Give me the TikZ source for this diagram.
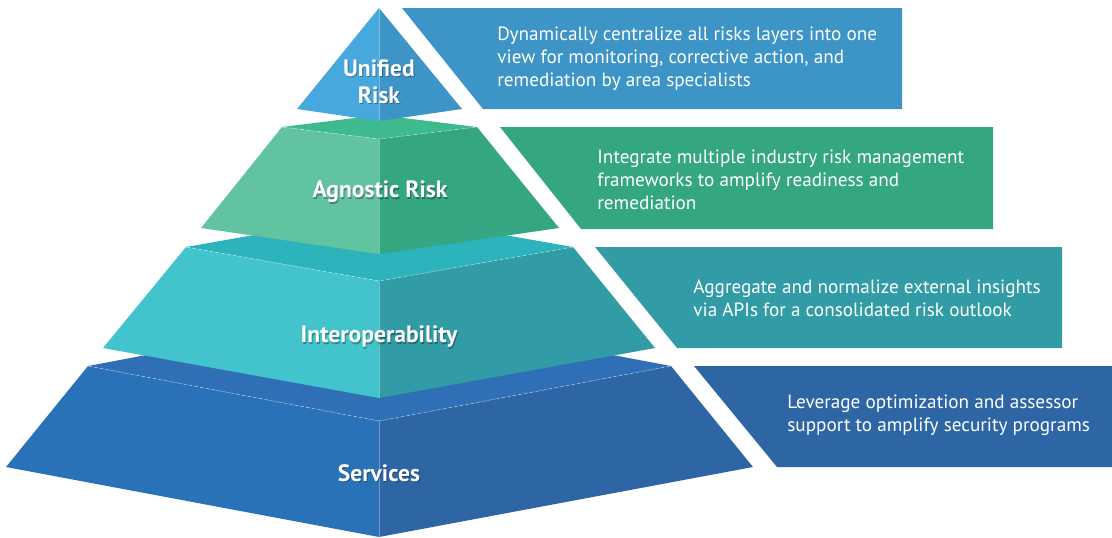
\documentclass[tikz,border=0pt]{standalone}
\usepackage{fontspec}
\setmainfont{PT Sans}

\definecolor{unifL}{HTML}{46A8DC}
\definecolor{unifR}{HTML}{3D94C6}
\definecolor{agnT}{HTML}{3DBB8E}
\definecolor{agnL}{HTML}{62C3A0}
\definecolor{agnR}{HTML}{34A682}
\definecolor{intT}{HTML}{2DB3BC}
\definecolor{intL}{HTML}{43C3CC}
\definecolor{intR}{HTML}{319CA5}
\definecolor{srvT}{HTML}{2F6FB5}
\definecolor{srvL}{HTML}{2A72B7}
\definecolor{srvR}{HTML}{2E66A5}

\begin{document}
\begin{tikzpicture}[x=0.5pt,y=-0.5pt,
  ridge/.style={white,opacity=0.45,line width=0.3pt,dash pattern=on 2pt off 1pt},
  spine/.style={white,opacity=0.35,line width=0.3pt},
  lbl/.style={text=white,font=\bfseries\fontsize{11.8}{13.5}\selectfont,align=center},
  lblshadow/.style={lbl,text=black,opacity=0.3,xshift=0.5pt,yshift=-0.6pt},
  desc/.style={text=white,font=\fontsize{9.6}{11.5}\selectfont,align=left,anchor=west,inner sep=0pt}]

\useasboundingbox (0,0) rectangle (1112,537);

%% boxes on the right
\foreach \yt/\yb/\xl/\xb/\xr/\c in {8/109/402/483/902/unifR,
        127/229/500/581/993/agnR, 247/348/595/677/1062/intR,
        366/467/694/777/1112/srvR}
        \fill[\c] (\xl,\yt) -- (\xr,\yt) -- (\xr,\yb) -- (\xb,\yb) -- cycle;

%% services (bottom layer)
\fill[srvT] (88,366) -- (379,311) -- (671,366) -- (379,421) -- cycle;
\fill[srvL] (88,366) -- (379,421) -- (379,537) -- (6,467) -- cycle;
\fill[srvR] (379,421) -- (671,366) -- (753,467) -- (379,537) -- cycle;
\draw[ridge] (88,366) -- (379,421) -- (671,366);
\draw[spine] (379,421) -- (379,537);

%% interoperability
\fill[intT] (186,247) -- (379,213) -- (573,247) -- (379,281) -- cycle;
\fill[intL] (186,247) -- (379,281) -- (379,398) -- (103,348) -- cycle;
\fill[intR] (379,281) -- (573,247) -- (655,348) -- (379,398) -- cycle;
\draw[ridge] (186,247) -- (379,281) -- (573,247);
\draw[spine] (379,281) -- (379,398);

%% agnostic risk
\fill[agnT] (282,127) -- (379,115) -- (477,127) -- (379,139) -- cycle;
\fill[agnL] (282,127) -- (379,139) -- (379,254) -- (201,228) -- cycle;
\fill[agnR] (379,139) -- (477,127) -- (559,228) -- (379,254) -- cycle;
\draw[ridge] (282,127) -- (379,139) -- (477,127);
\draw[spine] (379,139) -- (379,254);

%% unified risk (top)
\fill[unifL] (379,8) -- (379,121) -- (297,109) -- cycle;
\fill[unifR] (379,8) -- (462,109) -- (379,121) -- cycle;
\draw[spine] (379,8) -- (379,121);

%% layer names
\node[lblshadow] at (379,82) {Unified\\Risk};
\node[lbl] (unified) at (379,82) {Unified\\Risk};
\node[lblshadow] at (380,192) {Agnostic Risk};
\node[lbl] (agnostic) at (380,192) {Agnostic Risk};
\node[lblshadow] at (379,337) {Interoperability};
\node[lbl] (interop) at (379,337) {Interoperability};
\node[lblshadow] at (379,473) {Services};
\node[lbl] (services) at (379,473) {Services};

%% descriptions
\node[desc] (unifiedtxt) at (497,59) {Dynamically centralize all risks layers into one\\view for monitoring, corrective action, and\\remediation by area specialists};
\node[desc] (agnostictxt) at (597,180) {Integrate multiple industry risk management\\frameworks to amplify readiness and\\remediation};
\node[desc] (interoptxt) at (693,298) {Aggregate and normalize external insights\\via APIs for a consolidated risk outlook};
\node[desc] (servicestxt) at (787,415) {Leverage optimization and assessor\\support to amplify security programs};
\end{tikzpicture}
\end{document}
